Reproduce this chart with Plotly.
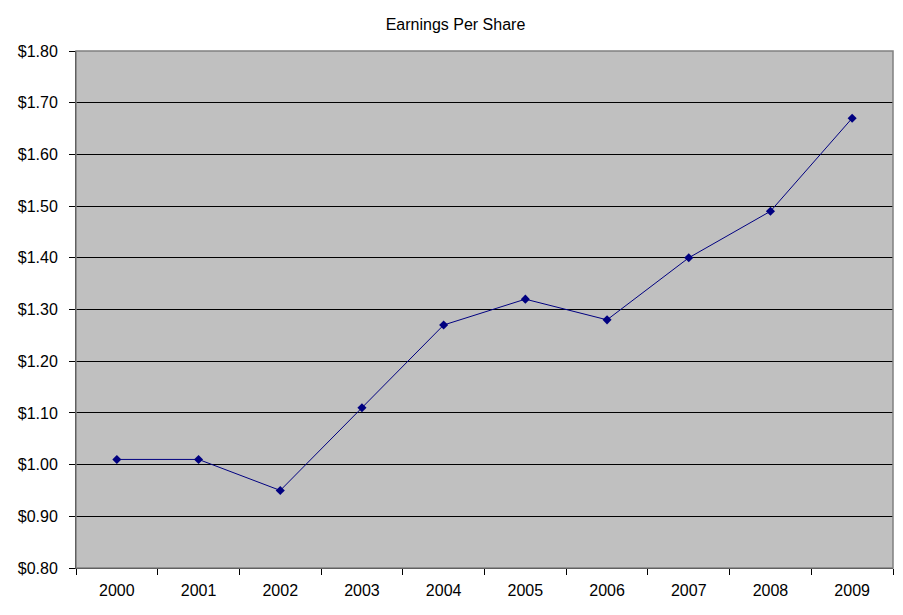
import plotly.graph_objects as go

years = ["2000", "2001", "2002", "2003", "2004", "2005", "2006", "2007", "2008", "2009"]
eps = [1.01, 1.01, 0.95, 1.11, 1.27, 1.32, 1.28, 1.40, 1.49, 1.67]
y_ticks = [0.80, 0.90, 1.00, 1.10, 1.20, 1.30, 1.40, 1.50, 1.60, 1.70, 1.80]

fig = go.Figure()
fig.add_trace(go.Scatter(
    x=years, y=eps, mode="lines+markers",
    line=dict(color="#000080", width=1),
    marker=dict(symbol="diamond", size=7, color="#000080"),
))

# grey frame around the plot area
fig.add_shape(type="rect", xref="paper", yref="paper", x0=0, y0=0, x1=1, y1=1,
              line=dict(color="#808080", width=1.5), layer="above")

# page body adds 8px margin, so the figure is a bit smaller than the window
fig.update_layout(
    width=895, height=607,
    margin=dict(l=68, r=10, t=43, b=47),
    paper_bgcolor="white", plot_bgcolor="#c0c0c0",
    font=dict(family="Liberation Sans, Arial, sans-serif", size=16, color="black"),
    title=dict(text="Earnings Per Share", x=0.5, xanchor="center", y=0.973, yanchor="middle",
               font=dict(size=16)),
    showlegend=False,
)
fig.update_xaxes(type="category", range=[-0.5, len(years) - 0.5], tickson="boundaries",
                 ticks="outside", ticklen=6,
                 tickcolor="black", showgrid=False, showline=True, linecolor="black",
                 linewidth=1, zeroline=False, ticklabelstandoff=8)
fig.update_yaxes(range=[0.80, 1.80], tickvals=y_ticks,
                 ticktext=["$%.2f" % v for v in y_ticks],
                 ticks="outside", ticklen=6, tickcolor="black",
                 showgrid=True, gridcolor="black", gridwidth=1,
                 showline=True, linecolor="black", linewidth=1, zeroline=False,
                 ticklabelstandoff=8)

fig.write_html("out.html")
